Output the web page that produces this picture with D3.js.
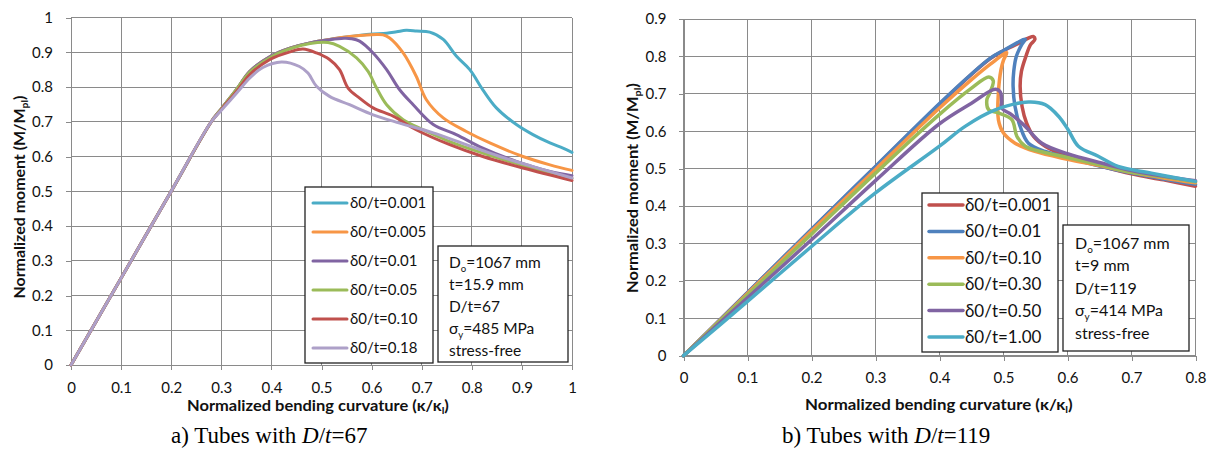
<!DOCTYPE html>
<html><head><meta charset="utf-8">
<script src="https://cdn.jsdelivr.net/npm/d3@7"></script>
<style>
body{margin:0;background:#fff;}
svg{display:block;font-family:Lato,"Open Sans",sans-serif;}
</style>
</head><body>
<svg id="c" width="1208" height="453"></svg>
<script>
// ---------- DATA ----------
// Chart a) D/t = 67
const xTicksA = [0,0.1,0.2,0.3,0.4,0.5,0.6,0.7,0.8,0.9,1];
const yTicksA = [0,0.1,0.2,0.3,0.4,0.5,0.6,0.7,0.8,0.9,1];
const labelsA = ["δ0/t=0.001","δ0/t=0.005","δ0/t=0.01","δ0/t=0.05","δ0/t=0.10","δ0/t=0.18"];
const a_0001 = [[0,0],[0.1,0.25],[0.2,0.5],[0.28,0.7],[0.3,0.737],[0.332,0.796],[0.357,0.845],[0.4,0.89],[0.437,0.912],[0.477,0.927],[0.516,0.937],[0.556,0.945],[0.596,0.952],[0.63,0.955],[0.65,0.959],[0.669,0.963],[0.69,0.961],[0.716,0.958],[0.743,0.937],[0.769,0.889],[0.796,0.85],[0.822,0.792],[0.849,0.74],[0.889,0.692],[0.922,0.663],[0.956,0.639],[0.982,0.624],[1.0,0.612]];
const a_0005 = [[0,0],[0.1,0.25],[0.2,0.5],[0.28,0.7],[0.3,0.737],[0.332,0.796],[0.357,0.845],[0.4,0.89],[0.437,0.912],[0.477,0.927],[0.516,0.937],[0.556,0.945],[0.583,0.949],[0.61,0.951],[0.623,0.95],[0.636,0.941],[0.663,0.898],[0.689,0.831],[0.709,0.764],[0.743,0.711],[0.789,0.672],[0.836,0.639],[0.902,0.6],[0.956,0.576],[1.0,0.56]];
const a_001 = [[0,0],[0.1,0.25],[0.2,0.5],[0.28,0.7],[0.3,0.737],[0.332,0.796],[0.357,0.845],[0.4,0.89],[0.437,0.912],[0.477,0.927],[0.516,0.936],[0.545,0.94],[0.56,0.939],[0.576,0.932],[0.603,0.898],[0.63,0.85],[0.656,0.792],[0.683,0.749],[0.723,0.692],[0.769,0.663],[0.822,0.624],[0.889,0.586],[0.956,0.557],[1.0,0.545]];
const a_005 = [[0,0],[0.1,0.25],[0.2,0.5],[0.28,0.7],[0.3,0.737],[0.332,0.796],[0.357,0.843],[0.4,0.887],[0.437,0.91],[0.477,0.925],[0.513,0.928],[0.536,0.917],[0.57,0.884],[0.593,0.845],[0.61,0.797],[0.63,0.749],[0.663,0.706],[0.703,0.677],[0.756,0.643],[0.822,0.61],[0.9,0.575],[1.0,0.537]];
const a_010 = [[0,0],[0.1,0.25],[0.2,0.5],[0.28,0.7],[0.3,0.735],[0.332,0.79],[0.357,0.836],[0.397,0.879],[0.437,0.901],[0.463,0.909],[0.49,0.898],[0.516,0.879],[0.536,0.85],[0.553,0.797],[0.576,0.768],[0.603,0.74],[0.643,0.716],[0.689,0.677],[0.756,0.634],[0.822,0.6],[0.902,0.567],[1.0,0.531]];
const a_018 = [[0,0],[0.1,0.25],[0.2,0.5],[0.28,0.7],[0.3,0.733],[0.332,0.785],[0.357,0.826],[0.383,0.856],[0.42,0.872],[0.456,0.859],[0.473,0.84],[0.49,0.802],[0.516,0.773],[0.556,0.749],[0.603,0.72],[0.656,0.696],[0.723,0.668],[0.789,0.634],[0.856,0.6],[0.922,0.571],[1.0,0.538]];
const infoA = ["D|o|=1067 mm","t=15.9 mm","D/t=67","σ|y|=485 MPa","stress-free"];

// Chart b) D/t = 119
const xTicksB = [0,0.1,0.2,0.3,0.4,0.5,0.6,0.7,0.8];
const yTicksB = [0,0.1,0.2,0.3,0.4,0.5,0.6,0.7,0.8,0.9];
const labelsB = ["δ0/t=0.001","δ0/t=0.01","δ0/t=0.10","δ0/t=0.30","δ0/t=0.50","δ0/t=1.00"];
const b_0001 = [[0,0],[0.1,0.168],[0.2,0.337],[0.3,0.505],[0.4,0.672],[0.45,0.752],[0.48,0.795],[0.5,0.815],[0.52,0.832],[0.547,0.853],[0.549,0.845],[0.542,0.831],[0.535,0.8],[0.528,0.76],[0.526,0.72],[0.529,0.666],[0.536,0.622],[0.547,0.586],[0.565,0.56],[0.6,0.533],[0.65,0.508],[0.7,0.486],[0.75,0.47],[0.8,0.453]];
const b_001 = [[0,0],[0.1,0.169],[0.2,0.338],[0.3,0.506],[0.4,0.674],[0.45,0.753],[0.48,0.796],[0.5,0.816],[0.534,0.846],[0.528,0.83],[0.52,0.8],[0.516,0.76],[0.515,0.72],[0.518,0.666],[0.526,0.613],[0.539,0.568],[0.565,0.546],[0.6,0.53],[0.65,0.507],[0.7,0.488],[0.75,0.472],[0.8,0.458]];
const b_010 = [[0,0],[0.1,0.166],[0.2,0.333],[0.3,0.498],[0.4,0.662],[0.45,0.738],[0.48,0.78],[0.505,0.81],[0.5,0.79],[0.496,0.764],[0.492,0.702],[0.492,0.631],[0.5,0.595],[0.518,0.568],[0.549,0.546],[0.6,0.525],[0.65,0.508],[0.7,0.49],[0.75,0.475],[0.8,0.462]];
const b_030 = [[0,0],[0.1,0.163],[0.2,0.325],[0.3,0.488],[0.4,0.645],[0.45,0.715],[0.477,0.745],[0.484,0.735],[0.478,0.7],[0.474,0.684],[0.477,0.657],[0.492,0.649],[0.513,0.631],[0.521,0.586],[0.534,0.56],[0.56,0.545],[0.6,0.53],[0.65,0.51],[0.7,0.49],[0.75,0.478],[0.8,0.465]];
const b_050 = [[0,0],[0.1,0.155],[0.2,0.31],[0.3,0.468],[0.4,0.62],[0.45,0.675],[0.487,0.712],[0.495,0.705],[0.497,0.68],[0.497,0.662],[0.513,0.644],[0.534,0.613],[0.56,0.568],[0.6,0.54],[0.653,0.515],[0.7,0.495],[0.75,0.48],[0.8,0.468]];
const b_100 = [[0,0],[0.1,0.145],[0.2,0.292],[0.3,0.435],[0.4,0.56],[0.44,0.613],[0.487,0.657],[0.539,0.678],[0.565,0.671],[0.586,0.64],[0.601,0.604],[0.617,0.56],[0.648,0.533],[0.679,0.506],[0.731,0.488],[0.8,0.466]];
const infoB = ["D|o|=1067 mm","t=9 mm","D/t=119","σ|y|=414 MPa","stress-free"];

// ---------- STYLE ----------
const colorsA = ["#4BACC6","#F79646","#8064A2","#9BBB59","#C0504D","#ADA0C8"];
const colorsB = ["#C0504D","#4F81BD","#F79646","#9BBB59","#8064A2","#4BACC6"];
const gridColor = "#8a8a8a";

const svg = d3.select("#c");

// place a text (anchored start at 0,0) so that its width equals targetW, centered at cx,cy, optional rotation
function fitText(t, cx, y, targetW, rot){
  const w = t.node().getComputedTextLength();
  const s = targetW / w;
  t.attr("x",0).attr("y",0).attr("text-anchor","start");
  const r = rot ? ` rotate(${rot})` : "";
  t.attr("transform",`translate(${cx},${y})${r} scale(${s},1) translate(${-w/2},0)`);
}

function drawChart(o){
  const g = svg.append("g");
  const x = d3.scaleLinear().domain(o.xDomain).range([o.left,o.right]);
  const y = d3.scaleLinear().domain(o.yDomain).range([o.bottom,o.top]);
  // grid
  g.append("g").selectAll("line").data(o.xTicks).join("line")
    .attr("x1",d=>x(d)).attr("x2",d=>x(d)).attr("y1",o.top).attr("y2",o.bottom)
    .attr("stroke",gridColor).attr("stroke-width",1).attr("shape-rendering","crispEdges");
  g.append("g").selectAll("line").data(o.yTicks).join("line")
    .attr("x1",o.left).attr("x2",o.right).attr("y1",d=>y(d)).attr("y2",d=>y(d))
    .attr("stroke",gridColor).attr("stroke-width",1).attr("shape-rendering","crispEdges");
  // axes
  const ax = g.append("g").attr("transform",`translate(0,${o.bottom})`)
    .call(d3.axisBottom(x).tickValues(o.xTicks).tickSize(5).tickPadding(12).tickFormat(d3.format("~g")));
  const ay = g.append("g").attr("transform",`translate(${o.left},0)`)
    .call(d3.axisLeft(y).tickValues(o.yTicks).tickSize(5).tickPadding(o.yPad).tickFormat(d3.format("~g")));
  [ax,ay].forEach(a=>{
    a.select(".domain").attr("stroke",gridColor).attr("shape-rendering","crispEdges");
    a.selectAll(".tick line").attr("stroke",gridColor).attr("shape-rendering","crispEdges");
    a.selectAll("text").attr("font-size",o.tickFont).attr("fill","#111").attr("font-family","Lato");
  });
  // lines
  const line = d3.line().x(d=>x(d[0])).y(d=>y(d[1])).curve(d3.curveCatmullRom.alpha(0.5));
  o.series.forEach((s,i)=>{
    g.append("path").attr("d",line(s)).attr("fill","none").attr("stroke",o.colors[i])
      .attr("stroke-width",o.lw).attr("stroke-linejoin","round").attr("stroke-linecap","round");
  });
  // axis titles
  const xt = g.append("text").attr("font-weight","bold").attr("font-size",o.titleFont).attr("fill","#111");
  xt.append("tspan").text("Normalized bending curvature (κ/κ");
  xt.append("tspan").text("l").attr("font-size",o.titleFont*0.65).attr("dy",3);
  xt.append("tspan").text(")").attr("dy",-3);
  fitText(xt, o.xTitleX, o.xTitleY, o.xTitleLen);
  const yt = g.append("text").attr("font-weight","bold").attr("font-size",o.titleFont).attr("fill","#111");
  yt.append("tspan").text("Normalized moment (M/M");
  yt.append("tspan").text("pl").attr("font-size",o.titleFont*0.65).attr("dy",3);
  yt.append("tspan").text(")").attr("dy",-3);
  fitText(yt, o.yTitleX, o.yTitleY, o.yTitleLen, -90);
  // legend
  const L = o.legend;
  g.append("rect").attr("x",L.x).attr("y",L.y).attr("width",L.w).attr("height",L.h)
    .attr("fill","#fff").attr("stroke","#222").attr("stroke-width",1.3);
  o.labels.forEach((lab,i)=>{
    const cy = L.y0 + i*L.dy;
    g.append("line").attr("x1",L.lx1).attr("x2",L.lx2).attr("y1",cy).attr("y2",cy)
      .attr("stroke",o.colors[i]).attr("stroke-width",o.lw).attr("stroke-linecap","round");
    g.append("text").attr("x",L.tx).attr("y",cy).attr("dy","0.35em").attr("font-size",L.font)
      .attr("fill","#111").text(lab);
  });
  // info box
  const B = o.info;
  g.append("rect").attr("x",B.x).attr("y",B.y).attr("width",B.w).attr("height",B.h)
    .attr("fill","#fff").attr("stroke","#222").attr("stroke-width",1.3);
  o.infoLines.forEach((ln,i)=>{
    const t = g.append("text").attr("x",B.tx).attr("y",B.y0 + i*B.dy).attr("dy","0.35em")
      .attr("font-size",B.font).attr("fill","#111");
    const parts = ln.split("|");
    t.append("tspan").text(parts[0]);
    if(parts.length>1){
      t.append("tspan").text(parts[1]).attr("font-size",B.font*0.62).attr("dy",4);
      t.append("tspan").text(parts[2]).attr("dy",-4);
    }
  });
  // caption
  const c = svg.append("text").attr("x",o.capX).attr("y",o.capY).attr("text-anchor","start")
    .attr("font-family","'Liberation Serif','Times New Roman',serif").attr("font-size",o.capFont).attr("fill","#000");
  c.append("tspan").text(o.cap[0]);
  c.append("tspan").text("D").attr("font-style","italic");
  c.append("tspan").text("/");
  c.append("tspan").text("t").attr("font-style","italic");
  c.append("tspan").text(o.cap[1]);
}

drawChart({
  xDomain:[0,1], yDomain:[0,1], left:71, right:572, top:17.5, bottom:365,
  xTicks:xTicksA, yTicks:yTicksA, yPad:13, tickFont:15,
  series:[a_0001,a_0005,a_001,a_005,a_010,a_018], colors:colorsA, lw:3,
  labels:labelsA, infoLines:infoA,
  xTitleX:318, xTitleY:411, xTitleLen:262, yTitleX:25, yTitleY:197, yTitleLen:203, titleFont:15,
  legend:{x:305,y:187,w:128,h:176,lx1:313,lx2:347,tx:350,y0:203,dy:29,font:15},
  info:{x:438,y:246,w:130,h:116,tx:449,y0:263,dy:22,font:15.5},
  cap:["a) Tubes with ","=67"], capX:171, capY:443, capFont:23
});
drawChart({
  xDomain:[0,0.8], yDomain:[0,0.9], left:683.5, right:1195.5, top:19, bottom:355.7,
  xTicks:xTicksB, yTicks:yTicksB, yPad:12, tickFont:15,
  series:[b_0001,b_001,b_010,b_030,b_050,b_100], colors:colorsB, lw:3.5,
  labels:labelsB, infoLines:infoB,
  xTitleX:939, xTitleY:410, xTitleLen:268, yTitleX:638, yTitleY:188, yTitleLen:210, titleFont:15,
  legend:{x:922,y:193,w:136,h:159,lx1:929,lx2:963,tx:965,y0:205,dy:26.4,font:17},
  info:{x:1063,y:225,w:126,h:126,tx:1075,y0:243,dy:22.5,font:16},
  cap:["b) Tubes with ","=119"], capX:782, capY:443, capFont:23
});
</script>
</body></html>
